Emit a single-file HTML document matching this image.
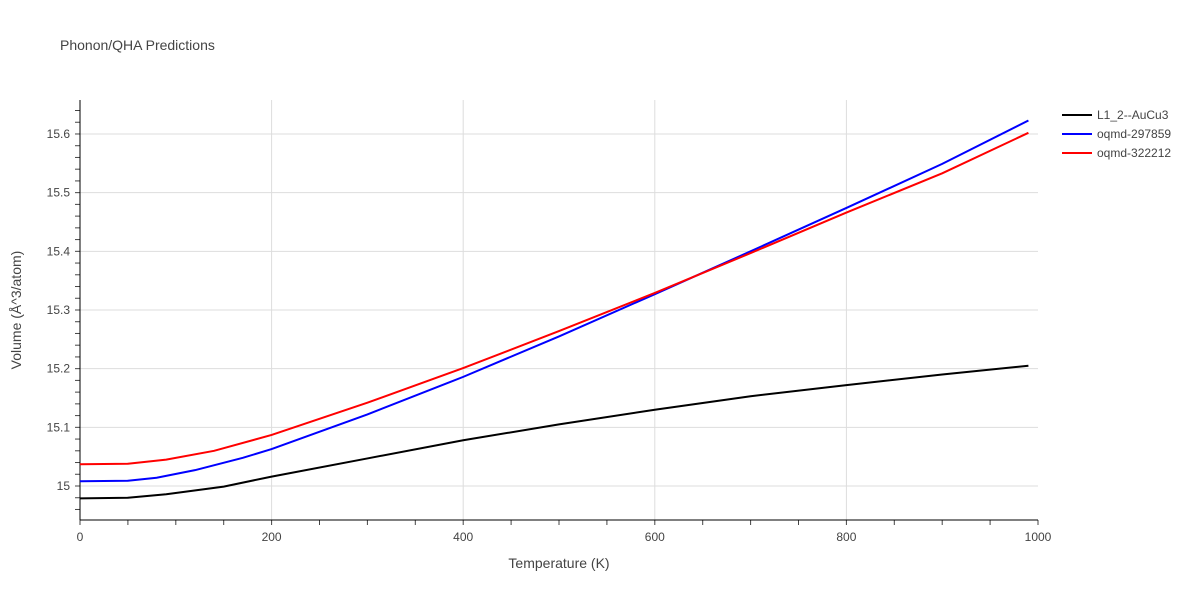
<!DOCTYPE html>
<html><head><meta charset="utf-8"><style>
body{margin:0;background:#fff;font-family:"Liberation Sans",sans-serif}
svg text{font-family:"Liberation Sans",sans-serif;fill:#444}
</style></head><body>
<svg id="c" width="1200" height="600">
<text x="60" y="50" font-size="14">Phonon/QHA Predictions</text>
<g id="grid"></g><g id="axes"></g><g id="lines"></g>
<text x="559" y="568" font-size="14" text-anchor="middle">Temperature (K)</text>
<text transform="translate(21,310) rotate(-90)" font-size="14" text-anchor="middle">Volume (Å^3/atom)</text>
<g id="legend"></g>
</svg>
<script>
const temps=[0,50,90,150,200,300,400,500,600,700,800,900,990];
const blackVals=[14.979,14.980,14.986,14.999,15.016,15.047,15.078,15.105,15.130,15.153,15.172,15.190,15.205];
const blueT=[0,50,80,120,170,200,300,400,500,600,700,800,900,990];
const blueVals=[15.008,15.009,15.014,15.027,15.048,15.063,15.122,15.186,15.255,15.327,15.400,15.474,15.549,15.623];
const redT=[0,50,90,140,200,300,400,500,600,700,800,900,990];
const redVals=[15.037,15.038,15.045,15.060,15.087,15.142,15.201,15.264,15.329,15.397,15.466,15.533,15.602];
const xTicks=[0,200,400,600,800,1000];
const yTicks=[15,15.1,15.2,15.3,15.4,15.5,15.6];
const yLabels=["15","15.1","15.2","15.3","15.4","15.5","15.6"];
const seriesNames=["L1_2--AuCu3","oqmd-297859","oqmd-322212"];
const NS="http://www.w3.org/2000/svg";
const X=v=>80+v*0.958, Y=v=>486-(v-15)*586.7;
function mk(t,a,p){const e=document.createElementNS(NS,t);for(const k in a)e.setAttribute(k,a[k]);document.getElementById(p).appendChild(e);return e;}
xTicks.forEach(t=>{if(t>0&&t<1000){const l=mk('line',{x1:X(t),x2:X(t),y1:100,y2:520,stroke:'#ddd'},'grid');

}
const tx=mk('text',{x:X(t),y:541,'font-size':12,'text-anchor':'middle'},'axes');tx.textContent=t;

});
yTicks.forEach((t,i)=>{const l=mk('line',{x1:80,x2:1038,y1:Y(t),y2:Y(t),stroke:'#ddd'},'grid');


const tx=mk('text',{x:70,y:Y(t)+4,'font-size':12,'text-anchor':'end'},'axes');tx.textContent=yLabels[i];

});
for(let t=0;t<=1000;t+=50){mk('line',{x1:X(t),x2:X(t),y1:520,y2:525,stroke:'#444'},'axes');}
for(let v=14.94;v<=15.66;v+=0.02){const y=Y(v);if(y>=100&&y<=520)mk('line',{x1:75,x2:80,y1:y,y2:y,stroke:'#444'},'axes');}
const ax=mk('line',{x1:80,x2:80,y1:100,y2:520,stroke:'#000'},'axes');


const bx=mk('line',{x1:80,x2:1038,y1:520,y2:520,stroke:'#000'},'axes');


const series=[[temps,blackVals,'#000'],[blueT,blueVals,'#00f'],[redT,redVals,'#f00']];
series.forEach((s,i)=>{const p=mk('polyline',{points:s[0].map((t,j)=>X(t)+','+Y(s[1][j])).join(' '),fill:'none',stroke:s[2],'stroke-width':2},'lines');


const ly=115+i*19;
const g=mk('g',{},'legend');


const ll=document.createElementNS(NS,'line');ll.setAttribute('x1',1062);ll.setAttribute('x2',1092);ll.setAttribute('y1',ly);ll.setAttribute('y2',ly);ll.setAttribute('stroke',s[2]);ll.setAttribute('stroke-width',2);g.appendChild(ll);
const tt=document.createElementNS(NS,'text');tt.setAttribute('x',1097);tt.setAttribute('y',ly+4);tt.setAttribute('font-size',12);tt.textContent=seriesNames[i];g.appendChild(tt);});
</script>
</body></html>
